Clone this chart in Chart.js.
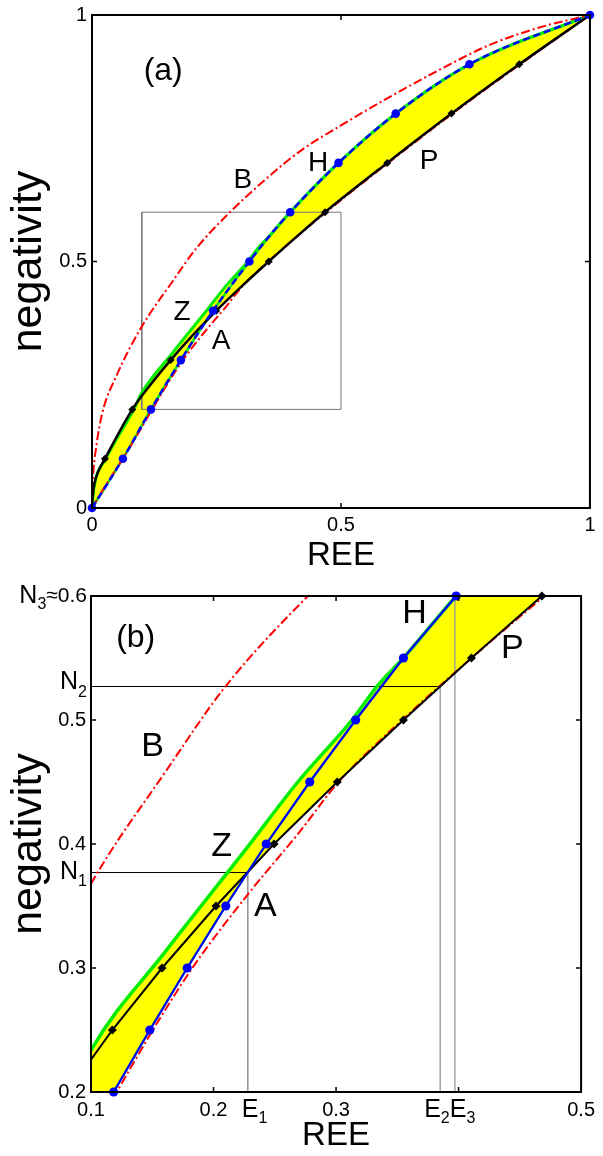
<!DOCTYPE html>
<html>
<head>
<meta charset="utf-8">
<script src="https://cdn.jsdelivr.net/npm/chart.js@4.4.1/dist/chart.umd.min.js"></script>
<style>
  html, body { margin: 0; padding: 0; background: #fff; }
  #wrap-a { position: absolute; left: 0; top: 0; width: 603px; height: 580px; }
  #wrap-b { position: absolute; left: 0; top: 580px; width: 603px; height: 576px; }
</style>
</head>
<body>
<div id="wrap-a"><canvas id="chart-a"></canvas></div>
<div id="wrap-b"><canvas id="chart-b"></canvas></div>
<script>
// curves: REE (x) against negativity (y)
const hNeg = [0, 0.1, 0.2, 0.25, 0.3, 0.35, 0.4, 0.45, 0.5, 0.55, 0.6, 0.7, 0.8, 0.9, 1];
const hRee = [0, 0.062, 0.1185, 0.148, 0.1785, 0.21, 0.243, 0.2785, 0.316, 0.355, 0.398, 0.495, 0.61, 0.758, 1];

const pNeg = [0, 0.02, 0.05, 0.075, 0.1, 0.2, 0.25, 0.3, 0.35, 0.4, 0.45, 0.5, 0.55, 0.6, 0.7, 0.8, 0.9, 1];
const pRee = [0, 0.001, 0.005, 0.013, 0.026, 0.081, 0.1174, 0.158, 0.202, 0.2494, 0.301, 0.355, 0.4105, 0.468, 0.593, 0.722, 0.858, 1];

const zNeg = [0, 0.04, 0.1, 0.2, 0.2337, 0.314, 0.395, 0.45, 0.5, 0.527, 0.55, 0.6, 0.7, 0.8, 0.9, 1];
const zRee = [0, 0.004, 0.028, 0.084, 0.1, 0.1613, 0.2258, 0.2688, 0.313, 0.3333, 0.355, 0.398, 0.495, 0.61, 0.758, 1];

const bNeg = [0, 0.06, 0.12, 0.19, 0.27, 0.368, 0.459, 0.527, 0.6, 0.668, 0.724, 0.776, 0.835, 0.89, 0.94, 0.975, 1];
const bRee = [0, 0.002, 0.008, 0.02, 0.05, 0.1, 0.1613, 0.2097, 0.277, 0.35, 0.418, 0.5, 0.6, 0.7, 0.8, 0.9, 1];

const aNeg = [0, 0.05, 0.1, 0.2, 0.25, 0.3, 0.36, 0.408, 0.4487, 0.5, 0.6, 0.7, 0.8, 0.9, 1];
const aRee = [0, 0.03, 0.062, 0.121, 0.1505, 0.1827, 0.2285, 0.2688, 0.301, 0.354, 0.47, 0.595, 0.724, 0.86, 1];

// zoom window of panel (b)
const zoomRee = [0.1, 0.5];
const zoomNeg = [0.2, 0.6];

// marked levels in panel (b)
const N1 = 0.377, E1 = 0.228;
const N2 = 0.527, E2 = 0.385;
const N3 = 0.6, E3 = 0.397;

const ticksA = [0, 0.5, 1];
const ticksBx = [0.1, 0.2, 0.3, 0.4, 0.5];
const ticksBy = [0.2, 0.3, 0.4, 0.5, 0.6];

const FAMILY = '"Liberation Sans", Arial, sans-serif';
Chart.defaults.font.family = FAMILY;
Chart.defaults.color = '#000';

const YELLOW = '#ffff00';
const GREEN = '#00ee00';
const BLUE = '#0000ff';
const RED = '#ff0000';
const DASHDOT = [9, 3, 2, 3];

const pts = (xs, ys) => xs.map((v, i) => ({ x: v, y: ys[i] }));
const every = step => p => Math.abs(p.y / step - Math.round(p.y / step)) < 1e-6;

function drawParts(ctx, parts, x, y, align) {
    let w = 0;
    for (const [t, s] of parts) {
        ctx.font = s + 'px ' + FAMILY;
        w += ctx.measureText(t).width;
    }
    let cx = align === 'right' ? x - w : align === 'center' ? x - w / 2 : x;
    ctx.textAlign = 'left';
    ctx.textBaseline = 'middle';
    for (const [t, s, dy] of parts) {
        ctx.font = s + 'px ' + FAMILY;
        ctx.fillText(t, cx, y + dy);
        cx += ctx.measureText(t).width;
    }
}

// box with inward ticks on all sides, curve names, subscript labels
const frame = {
    id: 'frame',
    afterDatasetsDraw(chart, args, opts) {
        const { ctx, chartArea: a, scales: { x, y } } = chart;
        ctx.save();
        ctx.strokeStyle = '#000';
        ctx.lineWidth = 1.5;
        ctx.beginPath();
        for (const v of opts.xTicks) {
            const px = x.getPixelForValue(v);
            ctx.moveTo(px, a.bottom); ctx.lineTo(px, a.bottom - 5);
            ctx.moveTo(px, a.top); ctx.lineTo(px, a.top + 5);
        }
        for (const v of opts.yTicks) {
            const py = y.getPixelForValue(v);
            ctx.moveTo(a.left, py); ctx.lineTo(a.left + 5, py);
            ctx.moveTo(a.right, py); ctx.lineTo(a.right - 5, py);
        }
        ctx.stroke();
        ctx.lineWidth = 2;
        ctx.strokeRect(a.left, a.top, a.width, a.height);

        ctx.fillStyle = '#000';
        ctx.textAlign = 'center';
        ctx.textBaseline = 'middle';
        for (const n of opts.names) {
            ctx.font = n.size + 'px ' + FAMILY;
            ctx.fillText(n.text, x.getPixelForValue(n.x), y.getPixelForValue(n.y));
        }
        for (const l of opts.yMarks || []) {
            drawParts(ctx, l.parts, a.left - 4, y.getPixelForValue(l.v), 'right');
        }
        for (const l of opts.xMarks || []) {
            drawParts(ctx, l.parts, x.getPixelForValue(l.v) + l.dx, a.bottom + 18, 'left');
        }
        ctx.restore();
    }
};

function lineSet(xs, ys, color, width, extra) {
    return Object.assign({
        data: pts(xs, ys), showLine: true, pointRadius: 0, borderColor: color,
        borderWidth: width, clip: 1
    }, extra);
}

const yellowFill = { target: 0, above: YELLOW, below: YELLOW };

function curveSets(panelA) {
    const smooth = { cubicInterpolationMode: 'monotone' };
    const hStyle = panelA ? { borderDash: [7, 4], cubicInterpolationMode: 'monotone' } : {};
    const pStyle = panelA ? smooth : {};
    const step = panelA ? 0.1 : 0.05;
    return [
        lineSet(hRee, hNeg, BLUE, panelA ? 2.5 : 2.2, Object.assign({ order: 2 }, hStyle)),
        lineSet(pRee, pNeg, '#000', panelA ? 2.5 : 2, Object.assign({ order: 3, fill: yellowFill }, pStyle)),
        lineSet(zRee, zNeg, GREEN, panelA ? 3 : 3.5, Object.assign({ order: 7, fill: yellowFill }, smooth)),
        lineSet(hRee, hNeg, GREEN, panelA ? 2.5 : 2, Object.assign({ order: 6 }, panelA ? smooth : {})),
        lineSet(aRee, aNeg, RED, 2, Object.assign({ order: 4, borderDash: DASHDOT }, smooth)),
        lineSet(bRee, bNeg, RED, 2, Object.assign({ order: 5, borderDash: DASHDOT }, smooth)),
        {
            data: pts(hRee, hNeg).filter(every(step)), showLine: false, pointStyle: 'circle',
            pointRadius: panelA ? 4.3 : 4.6, backgroundColor: BLUE, borderColor: BLUE, borderWidth: 0, order: 0, clip: 8
        },
        {
            data: pts(pRee, pNeg).filter(every(step)), showLine: false, pointStyle: 'rectRot',
            pointRadius: panelA ? 4 : 4.5, backgroundColor: '#000', borderColor: '#000', borderWidth: 0, order: 1, clip: 8
        }
    ];
}

function axes(xr, yr, xt, yt, xh, titleX, titleY) {
    return {
        x: {
            type: 'linear', min: xr[0], max: xr[1],
            afterBuildTicks: s => { s.ticks = xt.map(v => ({ value: v })); },
            afterFit: s => { s.height = xh; },
            grid: { display: false, drawTicks: false }, border: { display: false },
            ticks: {
                padding: titleX.tickPad, font: { size: 20, lineHeight: 1 },
                callback: v => (titleX.hide.includes(v) ? '' : String(v))
            },
            title: {
                display: true, text: 'REE', font: { size: 33, lineHeight: 1 },
                padding: { top: 0, bottom: titleX.pad }
            }
        },
        y: {
            type: 'linear', min: yr[0], max: yr[1],
            afterBuildTicks: s => { s.ticks = yt.map(v => ({ value: v })); },
            afterFit: s => { s.width = titleY.width; },
            grid: { display: false, drawTicks: false }, border: { display: false },
            ticks: {
                padding: 5, font: { size: 20, lineHeight: 1 },
                callback: v => (titleY.hide.includes(v) ? '' : String(v))
            },
            title: {
                display: true, text: 'negativity', font: { size: 43, lineHeight: 1 },
                padding: { top: 8, bottom: 0 }
            }
        }
    };
}

const common = {
    responsive: true,
    maintainAspectRatio: false,
    animation: false,
    events: []
};

new Chart(document.getElementById('chart-a'), {
    type: 'scatter',
    data: {
        datasets: curveSets(true).concat([
            lineSet([zoomRee[0], zoomRee[1], zoomRee[1], zoomRee[0], zoomRee[0]],
                [zoomNeg[0], zoomNeg[0], zoomNeg[1], zoomNeg[1], zoomNeg[0]], '#777', 1, { order: 9 })
        ])
    },
    options: Object.assign({}, common, {
        layout: { padding: { top: 10, right: 13, bottom: 0, left: 0 } },
        scales: axes([0, 1], [0, 1], ticksA, ticksA, 72,
            { tickPad: 7.5, pad: 8, hide: [] }, { width: 92, hide: [] }),
        plugins: {
            legend: { display: false },
            tooltip: { enabled: false },
            filler: { drawTime: 'beforeDatasetsDraw' },
            frame: {
                xTicks: ticksA, yTicks: ticksA,
                names: [
                    { text: '(a)', x: 0.143, y: 0.886, size: 32 },
                    { text: 'B', x: 0.303, y: 0.665, size: 28 },
                    { text: 'H', x: 0.454, y: 0.700, size: 28 },
                    { text: 'P', x: 0.677, y: 0.704, size: 28 },
                    { text: 'Z', x: 0.181, y: 0.398, size: 28 },
                    { text: 'A', x: 0.259, y: 0.338, size: 28 }
                ]
            }
        }
    }),
    plugins: [frame]
});

new Chart(document.getElementById('chart-b'), {
    type: 'scatter',
    data: {
        datasets: curveSets(false).concat([
            lineSet([zoomRee[0], E1], [N1, N1], '#000', 1, { order: 9 }),
            lineSet([E1, E1], [N1, zoomNeg[0]], '#808080', 1.3, { order: 9 }),
            lineSet([zoomRee[0], E2], [N2, N2], '#000', 1, { order: 9 }),
            lineSet([E2, E2], [N2, zoomNeg[0]], '#999', 1.3, { order: 9 }),
            lineSet([E3, E3], [N3, zoomNeg[0]], '#999', 1.3, { order: 9 })
        ])
    },
    options: Object.assign({}, common, {
        layout: { padding: { top: 16, right: 16, bottom: 0, left: 0 } },
        scales: axes(zoomRee, zoomNeg, ticksBx, ticksBy, 64,
            { tickPad: 8, pad: 4, hide: [0.4] }, { width: 91, hide: [0.6] }),
        plugins: {
            legend: { display: false },
            tooltip: { enabled: false },
            filler: { drawTime: 'beforeDatasetsDraw' },
            frame: {
                xTicks: ticksBx, yTicks: ticksBy,
                names: [
                    { text: '(b)', x: 0.1365, y: 0.566, size: 32 },
                    { text: 'H', x: 0.364, y: 0.5855, size: 34 },
                    { text: 'P', x: 0.4438, y: 0.5573, size: 34 },
                    { text: 'B', x: 0.1502, y: 0.4782, size: 34 },
                    { text: 'Z', x: 0.2067, y: 0.3976, size: 34 },
                    { text: 'A', x: 0.2422, y: 0.3492, size: 34 }
                ],
                yMarks: [
                    { v: N1, parts: [['N', 25, 0], ['1', 16, 9]] },
                    { v: N2, parts: [['N', 25, -4], ['2', 16, 6]] },
                    { v: N3, parts: [['N', 25, 0], ['3', 16, 9], ['\u22480.6', 21, 0]] }
                ],
                xMarks: [
                    { v: E1, dx: -6, parts: [['E', 25, 0], ['1', 16, 9]] },
                    { v: E2, dx: -16, parts: [['E', 25, 0], ['2', 16, 9], ['E', 25, 0], ['3', 16, 9]] }
                ]
            }
        }
    }),
    plugins: [frame]
});
</script>
</body>
</html>
